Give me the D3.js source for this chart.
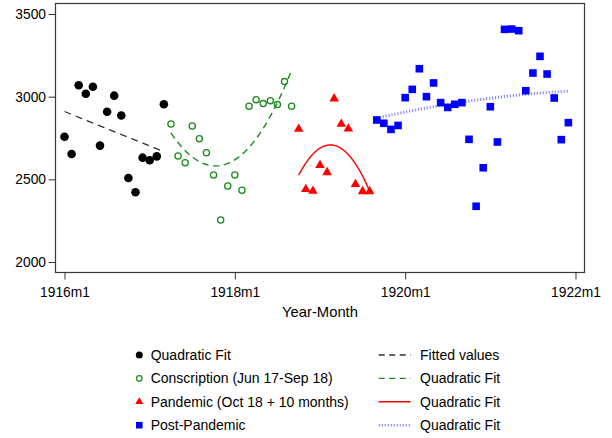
<!DOCTYPE html>
<html>
<head>
<meta charset="utf-8">
<script src="https://cdn.jsdelivr.net/npm/d3@7"></script>
<style>
  html, body { margin: 0; padding: 0; background: #fff; }
  svg { display: block; font-family: "Liberation Sans", Arial, Helvetica, sans-serif; }
</style>
</head>
<body>
<svg id="chart" width="612" height="438"></svg>
<script>
// Monthly counts, four periods. Each series starts at the given year-month
// and runs over consecutive months.
const tickMonths = ["1916m1", "1918m1", "1920m1", "1922m1"];
const yTicks = [2000, 2500, 3000, 3500];

const preStart = "1916m1";
const preValues = [2758, 2653, 3069, 3018, 3060, 2704, 2909, 3006, 2886, 2508,
                   2422, 2631, 2615, 2639, 2954];

const conscriptionStart = "1917m4";
const conscriptionValues = [2835, 2641, 2601, 2823, 2746, 2661, 2526, 2254, 2460,
                            2526, 2434, 2942, 2982, 2958, 2976, 2952, 3091, 2942];

const pandemicStart = "1918m10";
const pandemicValues = [2804, 2440, 2429, 2585, 2542, 2988, 2835, 2806, 2470,
                        2427, 2427];

const postStart = "1919m9";
const postValues = [2859, 2839, 2802, 2826, 2994, 3044, 3169, 3000, 3083, 2964,
                    2935, 2954, 2964, 2742, 2337, 2570, 2939, 2726, 3407, 3409,
                    3399, 3036, 3143, 3244, 3137, 2992, 2740, 2843];

const markerLabels = ["Quadratic Fit", "Conscription (Jun 17-Sep 18)",
                      "Pandemic (Oct 18 + 10 months)", "Post-Pandemic"];
const lineLabels = ["Fitted values", "Quadratic Fit", "Quadratic Fit", "Quadratic Fit"];
const xTitle = "Year-Month";

// month index relative to January 1916
const baseYear = 1916;
function monthIndex(ym) {
  const [y, m] = ym.split("m").map(Number);
  return (y - baseYear) * 12 + (m - 1);
}
function monthLabel(idx) {
  return (baseYear + Math.floor(idx / 12)) + "m" + (idx % 12 + 1);
}
function toPoints(start, values) {
  const s = monthIndex(start);
  return values.map((v, i) => ({ t: s + i, v }));
}

// least squares polynomial fit (degree 1 or 2)
function polyFit(pts, deg) {
  const n = deg + 1;
  const A = Array.from({ length: n }, () => new Array(n).fill(0));
  const b = new Array(n).fill(0);
  const t0 = d3.mean(pts, p => p.t);
  pts.forEach(p => {
    const x = p.t - t0;
    for (let i = 0; i < n; i++) {
      b[i] += Math.pow(x, i) * p.v;
      for (let j = 0; j < n; j++) A[i][j] += Math.pow(x, i + j);
    }
  });
  // Gaussian elimination
  for (let i = 0; i < n; i++) {
    for (let k = i + 1; k < n; k++) {
      const f = A[k][i] / A[i][i];
      for (let j = i; j < n; j++) A[k][j] -= f * A[i][j];
      b[k] -= f * b[i];
    }
  }
  const c = new Array(n).fill(0);
  for (let i = n - 1; i >= 0; i--) {
    let s = b[i];
    for (let j = i + 1; j < n; j++) s -= A[i][j] * c[j];
    c[i] = s / A[i][i];
  }
  const [lo, hi] = d3.extent(pts, p => p.t);
  const steps = 80;
  return d3.range(steps + 1).map(k => {
    const t = lo + (hi - lo) * k / steps;
    const x = t - t0;
    return { t, v: c.reduce((acc, ci, i) => acc + ci * Math.pow(x, i), 0) };
  });
}

const pre = toPoints(preStart, preValues);
const consc = toPoints(conscriptionStart, conscriptionValues);
const pand = toPoints(pandemicStart, pandemicValues);
const post = toPoints(postStart, postValues);

const svg = d3.select("#chart");
const plot = { left: 55.5, right: 584.5, top: 3.5, bottom: 272.5 };

const x = d3.scaleLinear().domain([-1.27, 73.27]).range([plot.left, plot.right]);
const y = d3.scaleLinear().domain([1936.5, 3563.5]).range([plot.bottom, plot.top]);

const green = "#1b8c1b";
const red = "#ff0000";
const blue = "#0000ff";
const fitBlue = "#8c8cff";

// axes
const yAxis = svg.append("g")
  .attr("transform", `translate(${plot.left},0)`)
  .call(d3.axisLeft(y).tickValues(yTicks).tickSize(7).tickPadding(2.5).tickFormat(d3.format("d")));
const xAxis = svg.append("g")
  .attr("transform", `translate(0,${plot.bottom})`)
  .call(d3.axisBottom(x).tickValues(tickMonths.map(monthIndex)).tickSize(7).tickPadding(7.5)
    .tickFormat(monthLabel));
[yAxis, xAxis].forEach(g => {
  g.select(".domain").remove();
  g.selectAll(".tick line").attr("stroke", "#333").attr("stroke-width", 1);
  g.selectAll(".tick text").attr("fill", "#000").style("font-size", "13.8px")
    .style("font-family", '"Liberation Sans", Arial, sans-serif');
});

// plot frame
svg.append("rect")
  .attr("x", plot.left).attr("y", plot.top)
  .attr("width", plot.right - plot.left).attr("height", plot.bottom - plot.top)
  .attr("fill", "none").attr("stroke", "#3a3a3a").attr("stroke-width", 1.2);

svg.append("text")
  .attr("x", (plot.left + plot.right) / 2).attr("y", 317)
  .attr("text-anchor", "middle").style("font-size", "14.8px").text(xTitle);

// fit lines
const line = d3.line().x(d => x(d.t)).y(d => y(d.v)).curve(d3.curveLinear);
const fits = [
  { data: polyFit(pre, 1), stroke: "#333", width: 1.3, dash: "7,5" },
  { data: polyFit(consc, 2), stroke: green, width: 1.4, dash: "6.5,4.5" },
  { data: polyFit(pand, 2), stroke: red, width: 1.4, dash: null },
  { data: polyFit(post, 2), stroke: fitBlue, width: 3, dash: "1.2,1.8" }
];
fits.forEach(f => {
  svg.append("path").attr("d", line(f.data)).attr("fill", "none")
    .attr("stroke", f.stroke).attr("stroke-width", f.width)
    .attr("stroke-dasharray", f.dash);
});

// markers
const g = svg.append("g");
g.selectAll(".pre").data(pre).join("circle")
  .attr("cx", d => x(d.t)).attr("cy", d => y(d.v)).attr("r", 4.3).attr("fill", "#000");
g.selectAll(".consc").data(consc).join("circle")
  .attr("cx", d => x(d.t)).attr("cy", d => y(d.v)).attr("r", 3.1)
  .attr("fill", "none").attr("stroke", green).attr("stroke-width", 1.3);
const tri = d3.symbol().type(d3.symbolTriangle).size(40);
g.selectAll(".pand").data(pand).join("path")
  .attr("d", tri).attr("transform", d => `translate(${x(d.t)},${y(d.v)})`).attr("fill", red);
const sq = 7.6;
g.selectAll(".post").data(post).join("rect")
  .attr("x", d => x(d.t) - sq / 2).attr("y", d => y(d.v) - sq / 2)
  .attr("width", sq).attr("height", sq).attr("fill", blue);

// legend
const legY0 = 355, legDy = 23.4;
const leg = svg.append("g").style("font-size", "14px");
markerLabels.forEach((lab, i) => {
  const cy = legY0 + i * legDy, cx = 139.3;
  if (i === 0) leg.append("circle").attr("cx", cx).attr("cy", cy).attr("r", 3.5).attr("fill", "#000");
  if (i === 1) leg.append("circle").attr("cx", cx).attr("cy", cy).attr("r", 2.8)
    .attr("fill", "none").attr("stroke", green).attr("stroke-width", 1.2);
  if (i === 2) leg.append("path").attr("d", d3.symbol().type(d3.symbolTriangle).size(28))
    .attr("transform", `translate(${cx},${cy})`).attr("fill", red);
  if (i === 3) leg.append("rect").attr("x", cx - 3.3).attr("y", cy - 3.3)
    .attr("width", 6.6).attr("height", 6.6).attr("fill", blue);
  leg.append("text").attr("x", 150.7).attr("y", cy).attr("dy", "0.36em").text(lab);
});
lineLabels.forEach((lab, i) => {
  const cy = legY0 + i * legDy;
  const f = fits[i];
  leg.append("line").attr("x1", 378.7).attr("x2", 410.7).attr("y1", cy).attr("y2", cy)
    .attr("stroke", f.stroke).attr("stroke-width", i === 3 ? 2.6 : 1.4)
    .attr("stroke-dasharray", i === 0 ? "6,4.5" : i === 1 ? "6,4.5" : f.dash);
  leg.append("text").attr("x", 420).attr("y", cy).attr("dy", "0.36em").text(lab);
});
</script>
</body>
</html>
